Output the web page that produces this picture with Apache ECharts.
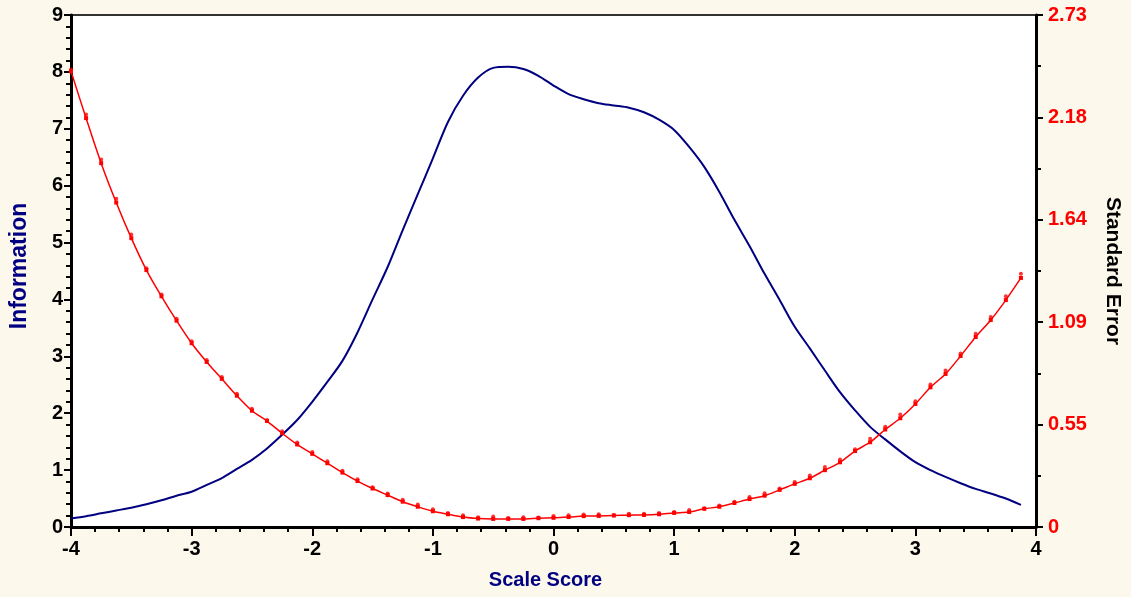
<!DOCTYPE html>
<html>
<head>
<meta charset="utf-8">
<title>Test Information and Standard Error</title>
<script src="https://cdn.jsdelivr.net/npm/echarts@6/dist/echarts.min.js"></script>
<style>
  html, body { margin: 0; padding: 0; background: #FDF8EC; }
  #chart { width: 1131px; height: 597px; }
</style>
</head>
<body>
<div id="chart"></div>
<script>
// Scale score grid shared by both curves
const THETA = [
  -4.000, -3.875, -3.750, -3.625, -3.500, -3.375, -3.250, -3.125,
  -3.000, -2.875, -2.750, -2.625, -2.500, -2.375, -2.250, -2.125,
  -2.000, -1.875, -1.750, -1.625, -1.500, -1.375, -1.250, -1.125,
  -1.000, -0.875, -0.750, -0.625, -0.500, -0.375, -0.250, -0.125,
   0.000,  0.125,  0.250,  0.375,  0.500,  0.625,  0.750,  0.875,
   1.000,  1.125,  1.250,  1.375,  1.500,  1.625,  1.750,  1.875,
   2.000,  2.125,  2.250,  2.375,  2.500,  2.625,  2.750,  2.875,
   3.000,  3.125,  3.250,  3.375,  3.500,  3.625,  3.750,  3.875
];

// Test information function
const INFORMATION = [
  0.15, 0.19, 0.24, 0.29, 0.34, 0.40, 0.47, 0.55,
  0.62, 0.74, 0.86, 1.02, 1.18, 1.38, 1.62, 1.88,
  2.20, 2.55, 2.92, 3.42, 4.00, 4.57, 5.22, 5.85,
  6.48, 7.12, 7.58, 7.90, 8.07, 8.09, 8.05, 7.93,
  7.76, 7.61, 7.52, 7.45, 7.41, 7.37, 7.29, 7.16,
  6.98, 6.68, 6.33, 5.89, 5.40, 4.94, 4.45, 3.99,
  3.52, 3.14, 2.75, 2.37, 2.05, 1.76, 1.54, 1.33,
  1.14, 1.00, 0.88, 0.77, 0.67, 0.59, 0.50, 0.39
];

// Standard error curve
const STD_ERROR = [
  2.43, 2.18, 1.94, 1.73, 1.54, 1.37, 1.23, 1.10,
  0.98, 0.88, 0.79, 0.70, 0.62, 0.565, 0.50, 0.44,
  0.39, 0.34, 0.29, 0.245, 0.205, 0.17, 0.135, 0.108,
  0.084, 0.068, 0.053, 0.045, 0.043, 0.043, 0.043, 0.047,
  0.049, 0.053, 0.058, 0.059, 0.061, 0.063, 0.064, 0.068,
  0.075, 0.080, 0.097, 0.108, 0.128, 0.149, 0.167, 0.198,
  0.230, 0.260, 0.303, 0.345, 0.405, 0.452, 0.520, 0.580,
  0.656, 0.745, 0.816, 0.912, 1.013, 1.104, 1.210, 1.328
];

// Observed standard error points
const STD_ERROR_OBS = [
  2.44, 2.20, 1.96, 1.75, 1.56, 1.38, 1.24, 1.11,
  0.99, 0.89, 0.80, 0.71, 0.63, 0.57, 0.51, 0.45,
  0.40, 0.35, 0.30, 0.255, 0.212, 0.178, 0.145, 0.120,
  0.094, 0.075, 0.062, 0.052, 0.056, 0.048, 0.052, 0.050,
  0.058, 0.062, 0.066, 0.068, 0.064, 0.070, 0.070, 0.074,
  0.080, 0.090, 0.100, 0.114, 0.135, 0.160, 0.180, 0.205,
  0.240, 0.275, 0.320, 0.360, 0.415, 0.470, 0.535, 0.600,
  0.670, 0.760, 0.835, 0.925, 1.030, 1.120, 1.230, 1.350
];

const SE_TICK_LABELS = ['0', '0.55', '1.09', '1.64', '2.18', '2.73'];

const NAVY = '#000080';
const RED = '#FF0000';
const FONT = '"Liberation Sans", Arial, sans-serif';

const pair = (xs, ys) => xs.map((x, i) => [x, ys[i]]);

const chart = echarts.init(document.getElementById('chart'), null, { renderer: 'canvas' });

chart.setOption({
  backgroundColor: '#FDF8EC',
  animation: false,
  grid: {
    left: 70, right: 95, top: 15, bottom: 70,
    show: true, backgroundColor: '#FFFFFF',
    borderColor: '#333333', borderWidth: 2
  },
  xAxis: {
    type: 'value', min: -4, max: 4, interval: 1,
    name: 'Scale Score', nameLocation: 'middle', nameGap: 43,
    nameTextStyle: {
      color: NAVY, fontFamily: FONT, fontWeight: 'bold', fontSize: 20,
      padding: [0, 16, 0, 0]
    },
    axisLine: { onZero: false, lineStyle: { color: '#000', width: 3 } },
    axisTick: { length: 9, lineStyle: { color: '#000', width: 2 } },
    minorTick: { show: true, splitNumber: 5, length: 5, lineStyle: { color: '#000', width: 2 } },
    axisLabel: { color: '#000', fontFamily: FONT, fontWeight: 'bold', fontSize: 20, margin: 12 },
    splitLine: { show: false }
  },
  yAxis: [
    {
      type: 'value', min: 0, max: 9, interval: 1, position: 'left',
      name: 'Information', nameLocation: 'middle', nameGap: 40,
      nameTextStyle: {
        color: NAVY, fontFamily: FONT, fontWeight: 'bold', fontSize: 23,
        padding: [0, 0, 0, 10]
      },
      axisLine: { show: true, onZero: false, lineStyle: { color: '#000', width: 3 } },
      axisTick: { length: 7, lineStyle: { color: '#000', width: 2 } },
      minorTick: { show: true, splitNumber: 5, length: 5, lineStyle: { color: '#000', width: 2 } },
      axisLabel: { color: '#000', fontFamily: FONT, fontWeight: 'bold', fontSize: 20, margin: 8 },
      splitLine: { show: false }
    },
    {
      type: 'value', min: 0, max: 2.73, interval: 0.546, position: 'right',
      name: 'Standard Error', nameLocation: 'middle', nameGap: 66, nameRotate: -90,
      nameTextStyle: { color: '#000', fontFamily: FONT, fontWeight: 'bold', fontSize: 21 },
      axisLine: { show: true, onZero: false, lineStyle: { color: '#000', width: 3 } },
      axisTick: { length: 7, lineStyle: { color: '#000', width: 2 } },
      minorTick: { show: true, splitNumber: 2, length: 5, lineStyle: { color: '#000', width: 2 } },
      axisLabel: {
        color: RED, fontFamily: FONT, fontWeight: 'bold', fontSize: 20, margin: 12,
        formatter: (v, i) => SE_TICK_LABELS[i]
      },
      splitLine: { show: false }
    }
  ],
  series: [
    {
      name: 'Information', type: 'line', yAxisIndex: 0,
      data: pair(THETA, INFORMATION),
      showSymbol: false, smooth: 0.3,
      lineStyle: { color: NAVY, width: 2 },
      itemStyle: { color: NAVY },
      z: 3
    },
    {
      name: 'Standard Error', type: 'line', yAxisIndex: 1,
      data: pair(THETA, STD_ERROR),
      smooth: 0.3, showSymbol: true, showAllSymbol: true,
      symbol: 'rect', symbolSize: 4,
      lineStyle: { color: RED, width: 1.5 },
      itemStyle: { color: RED },
      z: 4
    },
    {
      name: 'Observed SE', type: 'scatter', yAxisIndex: 1,
      data: pair(THETA, STD_ERROR_OBS),
      symbol: 'circle', symbolSize: 4,
      itemStyle: { color: RED },
      z: 5
    }
  ]
});
</script>
</body>
</html>
